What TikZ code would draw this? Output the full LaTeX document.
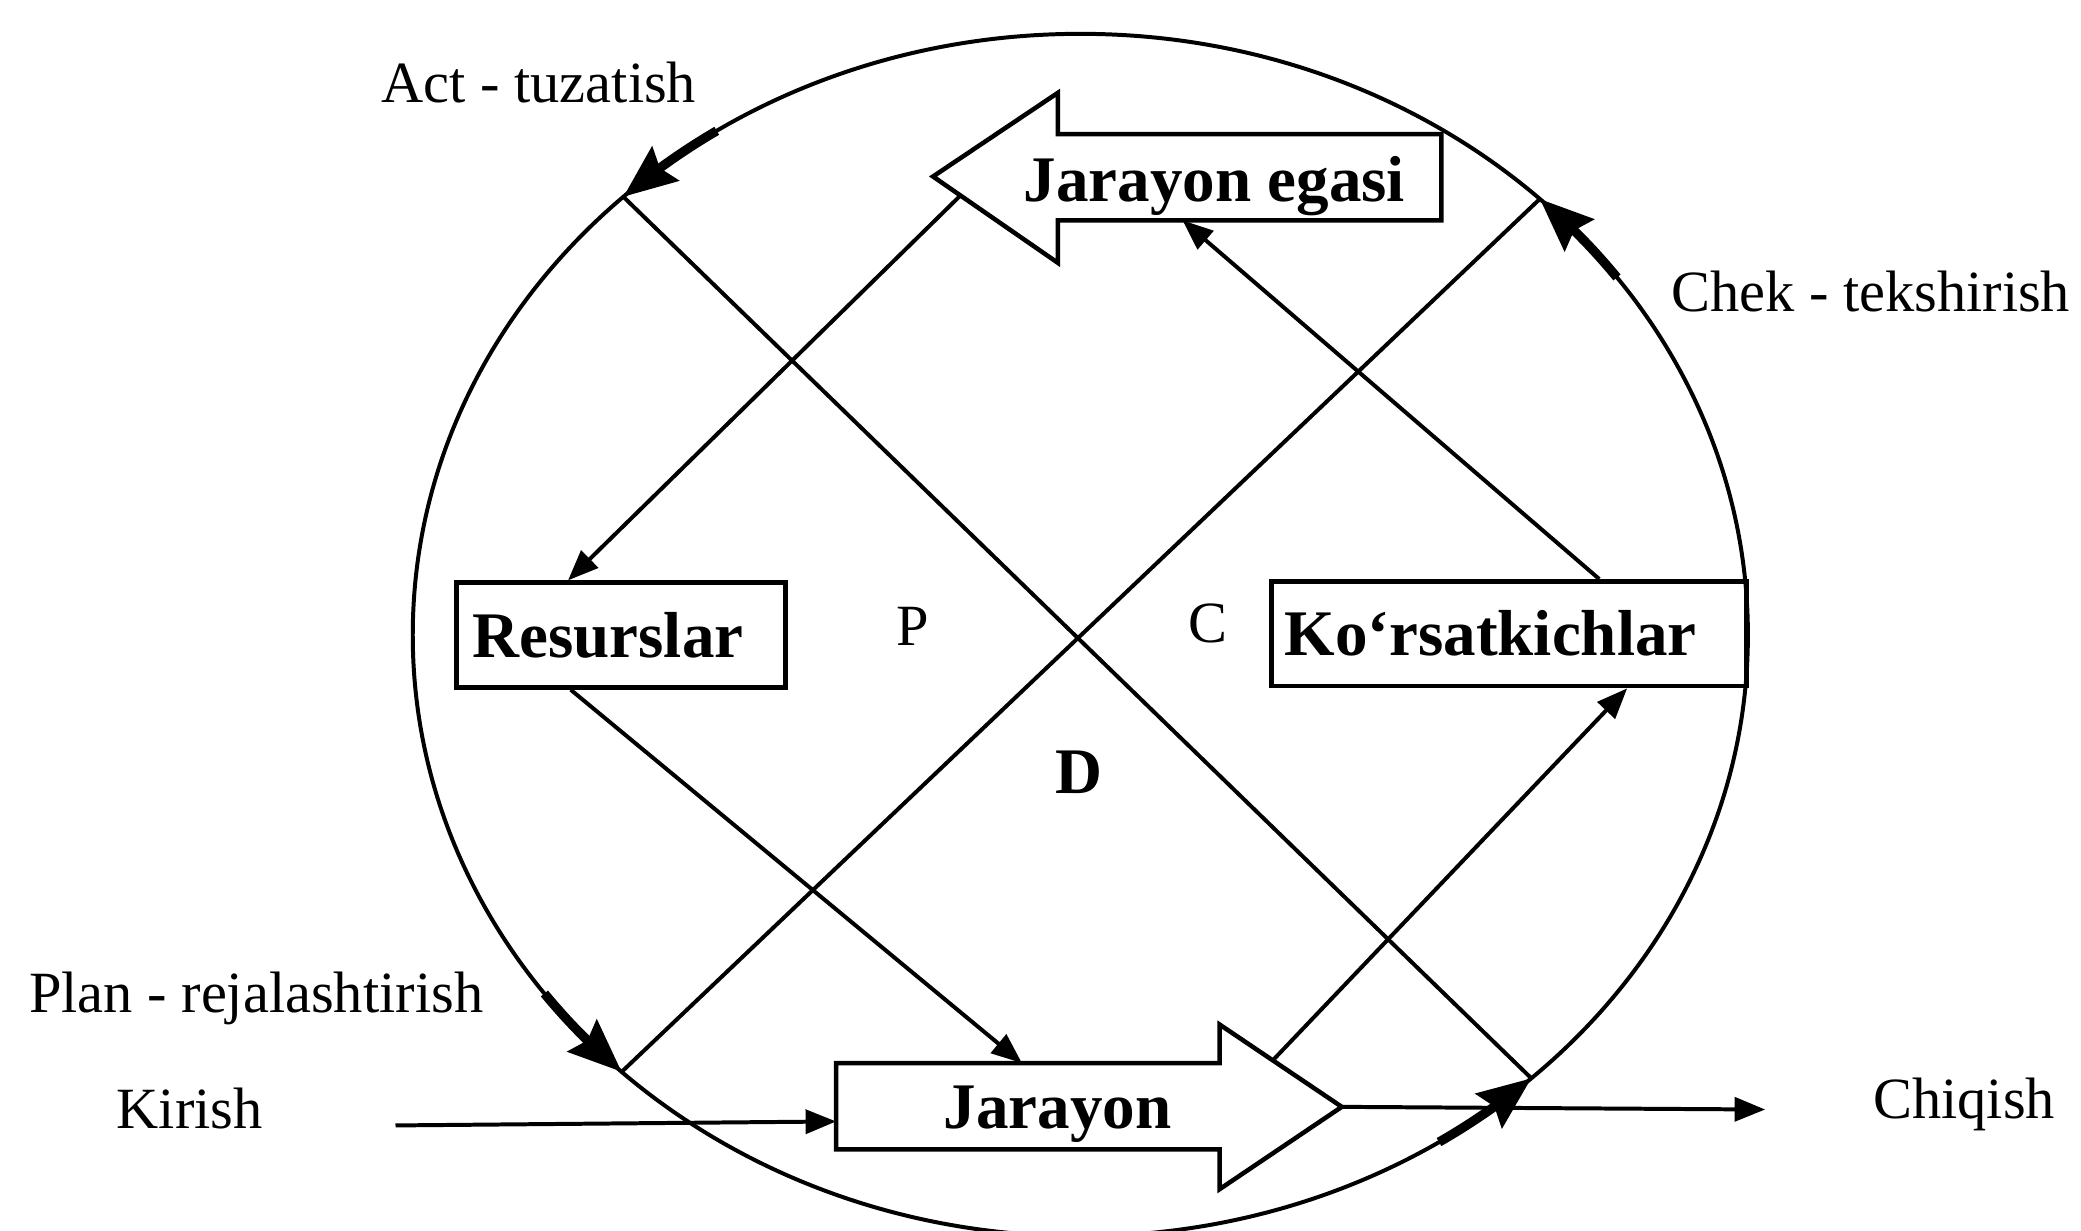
\documentclass[tikz,border=0pt]{standalone}
\usepackage{fontspec}
\setmainfont{Liberation Serif}
\usetikzlibrary{arrows.meta,calc,bending}
\begin{document}
\begin{tikzpicture}[x=1pt,y=1pt,line join=miter,
  plain/.style={line width=3pt},
  shapeline/.style={line width=3.4pt},
  boxnode/.style={draw,line width=3.4pt,font=\fontsize{49}{54}\selectfont\bfseries,align=left,minimum height=79pt,inner ysep=0pt},
  lbl/.style={font=\fontsize{44}{50}\selectfont,inner sep=0pt},
  blbl/.style={font=\fontsize{49}{54}\selectfont\bfseries,inner sep=0pt},
  conn/.style={line width=3pt,-{Triangle[length=23pt,width=18pt]}},
  cyc/.style={line width=7pt,-{Stealth[length=40pt,width=32pt,inset=5pt]}}
]
\useasboundingbox (0,0) rectangle (1568,927);
\fill[white] (0,0) rectangle (1568,927);

% cycle ellipse
\coordinate (O) at (814,448.5);
\draw[plain] (O) ellipse [x radius=503pt, y radius=453pt];
\coordinate (A) at ([shift={(133.2:503pt and 453pt)}]O);
\coordinate (C) at ([shift={(46.5:503pt and 453pt)}]O);
\coordinate (D) at ([shift={(226.6:503pt and 453pt)}]O);
\coordinate (B) at ([shift={(312.5:503pt and 453pt)}]O);
\draw[plain] (A) -- (B);
\draw[plain] (C) -- (D);

% thick cycle arrows on the ellipse
\draw[cyc] ([shift={(123:503pt and 453pt)}]O) arc[start angle=123,end angle=133.2,x radius=503pt,y radius=453pt];
\draw[cyc] ([shift={(36.5:503pt and 453pt)}]O) arc[start angle=36.5,end angle=46.5,x radius=503pt,y radius=453pt];
\draw[cyc] ([shift={(216.6:503pt and 453pt)}]O) arc[start angle=216.6,end angle=226.6,x radius=503pt,y radius=453pt];
\draw[cyc] ([shift={(302.5:503pt and 453pt)}]O) arc[start angle=302.5,end angle=312.5,x radius=503pt,y radius=453pt];

% Jarayon egasi (left arrow)
\coordinate (egtip) at (703,794);
\coordinate (eghb) at (797,729);
\coordinate (egbot) at (891,761);
\draw[shapeline] (egtip) -- (797,857) -- (797,826) -- (1086,826) -- (1086,761) -- (797,761) -- (eghb) -- cycle;
\node[blbl,anchor=base] (egasi) at (915,775) {Jarayon egasi};

% Jarayon (right arrow)
\coordinate (jtip) at (1011,93);
\coordinate (jht) at (919,155);
\coordinate (jtop) at (770,126);
\coordinate (jleft) at (630,82);
\draw[shapeline] (630,126) -- (919,126) -- (jht) -- (jtip) -- (919,31) -- (919,61) -- (630,61) -- cycle;
\node[blbl,anchor=base] (jar) at (797,77) {Jarayon};

% boxes
\node[boxnode,text width=224pt,inner xsep=12pt] (res) at (468,448.5) {Resurslar};
\node[boxnode,text width=338pt,inner xsep=10pt] (kor) at (1137,449.5) {Ko‘rsatkichlar};

% connectors
\draw[conn] ($(egtip)!0.22!(eghb)$) -- ([xshift=-40pt]res.north);
\draw[conn] ([xshift=-38pt]res.south) -- (jtop);
\draw[conn] ($(jht)!0.435!(jtip)$) -- ([xshift=89pt]kor.south);
\draw[conn] ([xshift=68pt]kor.north) -- (egbot);

% input / output
\coordinate (kin) at (298,79);
\coordinate (cout) at (1330,91);
\draw[conn] (kin) -- (jleft);
\draw[conn] (jtip) -- (cout);

% labels
\node[lbl,anchor=base] (act) at (406,850) {Act - tuzatish};
\node[lbl,anchor=base] (chek) at (1409.5,692) {Chek - tekshirish};
\node[lbl,anchor=base] (plan) at (193,164) {Plan - rejalashtirish};
\node[lbl,anchor=base] (kirish) at (143,77) {Kirish};
\node[lbl,anchor=base] (chiqish) at (1480,84) {Chiqish};
\node[lbl] (p) at (688,455) {P};
\node[lbl] (c) at (910,457) {C};
\node[blbl] (d) at (813,345) {D};
\end{tikzpicture}
\end{document}
